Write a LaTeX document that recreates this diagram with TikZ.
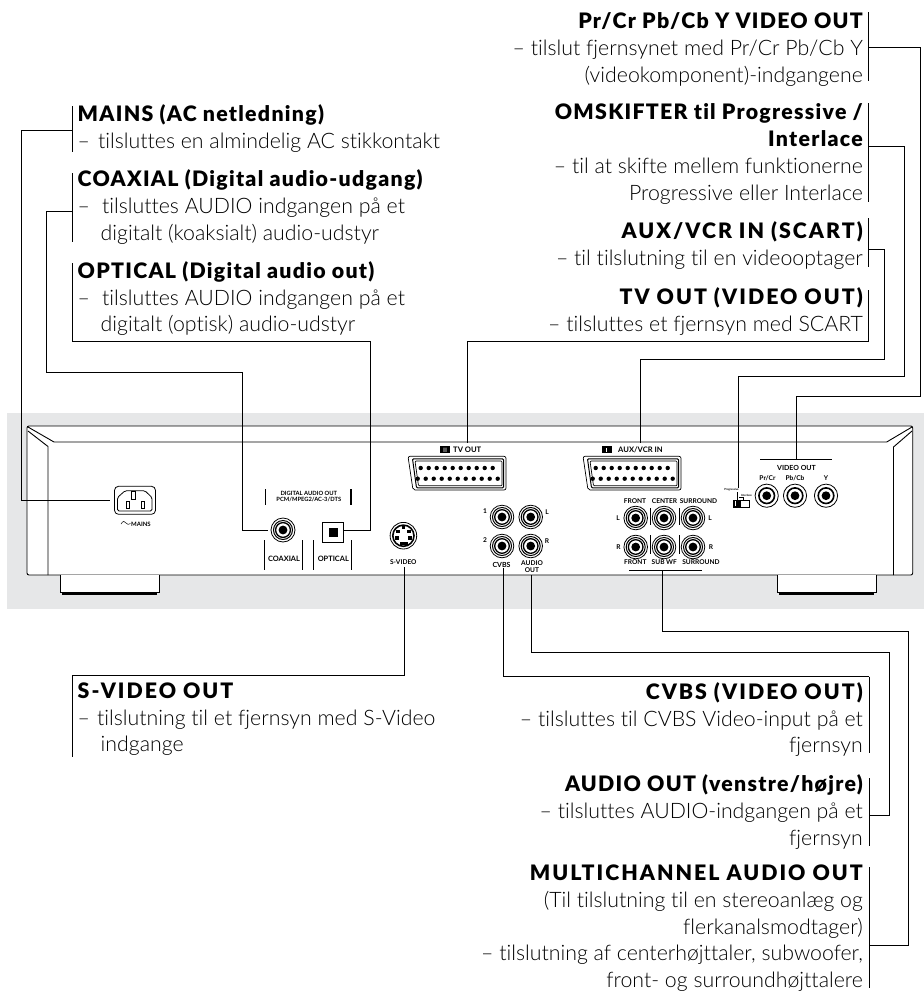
\documentclass[tikz,border=0pt]{standalone}
\usepackage{fontspec}
\setmainfont{Lato}
\newfontfamily\hdfam{Lato}[LetterSpace=6,BoldFont={Lato Black},Ligatures=NoCommon]
\newfontfamily\hcfam{Lato}[LetterSpace=9.5,BoldFont={Lato Black},Ligatures=NoCommon]
\newfontfamily\bdfam{Lato Light}[Ligatures=NoCommon]
\newcommand{\hd}[1]{{\hdfam\bfseries #1}}
\newcommand{\hc}[1]{{\hcfam\bfseries #1}}
\definecolor{panelgray}{HTML}{E6E7E8}
\begin{document}
\begin{tikzpicture}[x=1pt,y=-1pt,
  wire/.style={line width=1pt,line join=miter},
  devline/.style={line width=.9pt},
  ltext/.style={anchor=base west,align=left,inner sep=0pt,font=\bdfam\fontsize{21.3}{26.7}\selectfont},
  rtext/.style={anchor=base east,align=right,inner sep=0pt,font=\bdfam\fontsize{21.3}{26.7}\selectfont},
  tiny/.style={inner sep=0pt,align=center,font=\bfseries\fontsize{6.6}{7}\selectfont},
]
\useasboundingbox (0,0) rectangle (924,991);
\fill[white] (0,0) rectangle (924,991);
\fill[panelgray] (7,413) rectangle (924,609);

% ---------- device body
\draw[devline,fill=white,rounded corners=2pt] (27,426) rectangle (912.7,575);
\draw[devline] (28,427) -- (54,442) -- (886.7,442) -- (912,427);
\draw[devline] (28,431) -- (48,446.5) -- (48,575);
\draw[devline] (912,431) -- (893.5,447) -- (893.5,575);
% feet
\foreach \fx in {60,777}{
  \draw[line width=1pt,fill=white] (\fx,575) -- (\fx,592) -- (\fx+99,592) -- (\fx+99,575);
  \draw[line width=1.1pt] (\fx+2,594) -- (\fx+97,594);
}

% ---------- mains inlet
\node[draw,line width=.8pt,rounded corners=4pt,minimum width=41pt,minimum height=28pt,inner sep=0pt] (mains) at (135,500.3) {};
\draw[line width=.8pt,rounded corners=1.5pt] (125,490.8) -- (145,490.8) -- (152,497.5) -- (152,511) -- (117.5,511) -- (117.5,497.5) -- cycle;
\draw[line width=.8pt] (131.8,491.5) rectangle (135.5,499) (126,501) rectangle (129.3,508.3) (141.2,501) rectangle (144.8,508.3);
\draw[line width=.5pt] (121,524) .. controls (123,520.5) and (125,521) .. (126,523) .. controls (127,525) and (129,524.5) .. (130.5,523.5);
\node[tiny,font=\bfseries\fontsize{6}{7}\selectfont] (mainslabel) at (141,524) {MAINS};

% ---------- digital audio
\node[tiny,font=\bfseries\fontsize{5.8}{6.7}\selectfont] (dlabel) at (308.8,496.5) {DIGITAL AUDIO OUT\\PCM/MPEG2/AC-3/DTS};
\draw[line width=1.1pt] (265.5,489) -- (265.5,504.5) (351,489) -- (351,504.5);
\node[circle,inner sep=0pt,minimum size=24pt,draw,line width=.8pt] (coax) at (283,530) {};
\draw[line width=1pt] (coax) circle[radius=9.5];
\draw[line width=1.3pt] (coax) circle[radius=7.4];
\fill (coax) circle[radius=4.4];
\draw[line width=.8pt] (264.5,540) -- (264.5,569.5) (302.5,540) -- (302.5,569.5);
\node[tiny,font=\bfseries\fontsize{7.4}{8}\selectfont] (coaxlabel) at (284,559) {COAXIAL};
\node[draw,line width=.7pt,minimum width=20.5pt,minimum height=20pt,inner sep=0pt] (optical) at (332.8,532) {};
\draw[line width=1.5pt] (322.6,522) -- (322.6,542);
\fill (328.7,527.7) rectangle (337.5,536.7);
\draw[line width=.8pt] (313.5,540) -- (313.5,569.5) (351.2,540) -- (351.2,569.5);
\node[tiny,font=\bfseries\fontsize{7.4}{8}\selectfont] (optlabel) at (333.3,559) {OPTICAL};

% ---------- S-video
\node[circle,inner sep=0pt,minimum size=26.6pt,draw,line width=.8pt] (svideo) at (403.4,535.7) {};
\draw[line width=1.6pt] (svideo) circle[radius=10.6];
\foreach \sx/\sy in {398/531.5,409/531.5,397/538,410/538}{\fill (\sx-1.8,\sy-1.8) rectangle (\sx+1.8,\sy+1.8);}
\fill (399.5,541.8) rectangle (407.5,545);
\fill (402,526) rectangle (405,528.5);
\node[tiny] (svlabel) at (403.3,562.5) {S-VIDEO};

% ---------- SCART connectors
\foreach \sx/\nm in {408/tvport,583/auxport}{
  \draw[line width=.7pt,rounded corners=2pt] (\sx,456.3) -- (\sx+98,456.3) -- (\sx+98,490) -- (\sx+5,490) -- cycle;
  \draw[line width=1pt,rounded corners=1pt] (\sx+4.5,458.8) -- (\sx+95.5,458.8) -- (\sx+95.5,487.8) -- (\sx+8.5,487.8) -- cycle;
  \draw[line width=.7pt,rounded corners=1pt] (\sx+7,461) -- (\sx+94,461) -- (\sx+94,485.8) -- (\sx+10.5,485.8) -- cycle;
  \foreach \i in {0,...,9}{\fill (\sx+12.7+8*\i,468) circle[radius=2.2];}
  \foreach \i in {0,...,10}{\fill (\sx+9.7+8*\i,478.7) circle[radius=2.2];}
}
\coordinate (tvport) at (467,443);
\coordinate (auxport) at (640,443);
\fill (440,446) rectangle (450,453.2);
\fill (601.7,446) rectangle (612,453.2);
\fill[white] (443.5,447.5) rectangle (444.3,451.8) (445.5,447.5) rectangle (446.3,451.8);
\fill[white] (606.4,447.5) rectangle (607.2,451.8);
\node[tiny,font=\bfseries\fontsize{7.6}{8}\selectfont,anchor=west] (tvlabel) at (453,450) {TV OUT};
\node[tiny,font=\bfseries\fontsize{7.6}{8}\selectfont,anchor=west] (auxlabel) at (618,450) {AUX/VCR IN};

% ---------- RCA jacks (triple ring)
\foreach \jx/\jy in {502/517,502/546,530.7/517,530.7/546,635.7/518,664/518,693/518,635.7/547,664/547,693/547}{
  \draw[line width=.8pt] (\jx,\jy) circle[radius=11.8];
  \draw[line width=1pt] (\jx,\jy) circle[radius=9.5];
  \draw[line width=1.3pt] (\jx,\jy) circle[radius=7.3];
  \fill (\jx,\jy) circle[radius=4.4];
}
\foreach \lx/\ly/\lt in {485/511/1,485/540/2,547/512/L,547/541/R,618/518/L,710/518/L,618.5/547/R,711/547/R}{
  \node[tiny,font=\bfseries\fontsize{6.6}{7}\selectfont] at (\lx,\ly) {\lt};
}
\node[tiny,font=\bfseries\fontsize{7}{7}\selectfont] (cvbslabel) at (501.5,565) {CVBS};
\node[tiny,font=\bfseries\fontsize{6.6}{7}\selectfont] (audiolabel) at (532,566.5) {AUDIO\\OUT};
\node[tiny] (f1) at (635,501.3) {FRONT};
\node[tiny] (c1) at (664.5,501.3) {CENTER};
\node[tiny] (s1) at (698.5,501.3) {SURROUND};
\node[tiny] (f2) at (635.3,562.5) {FRONT};
\node[tiny] (s2) at (664.3,562.5) {SUB WF};
\node[tiny] (s3) at (701,562.5) {SURROUND};
\draw[line width=.8pt] (650,508) -- (650,525) (679,508) -- (679,525) (650,535) -- (650,554) (679,535) -- (679,554);
\draw[line width=.9pt] (629,570) -- (702,570);

% ---------- video out
\draw[line width=.9pt] (760,459) -- (832,459);
\coordinate (vidout) at (796.7,459);
\node[tiny,font=\bfseries\fontsize{7}{7}\selectfont] (vlabel) at (796.5,468.3) {VIDEO OUT};
\node[tiny] (pr) at (767.5,478.5) {Pr/Cr};
\node[tiny] (pb) at (795,478.5) {Pb/Cb};
\node[tiny] (ylab) at (826,478.5) {Y};
\foreach \jx in {766.7,795,826}{
  \draw[line width=.8pt] (\jx,495.7) circle[radius=11.6];
  \draw[line width=1.6pt] (\jx,495.7) circle[radius=7.8];
  \fill (\jx,495.7) circle[radius=4.4];
}

% ---------- switch
\draw[line width=.8pt] (733.3,500) rectangle (749,507);
\fill (733.3,500) rectangle (741,507);
\fill[white] (735,501) rectangle (736,506);
\coordinate (swport) at (738,487.5);
\node[tiny,font=\bfseries\fontsize{2.8}{3}\selectfont] (prog) at (731.5,489.7) {Progressive};
\node[tiny,font=\bfseries\fontsize{2.8}{3}\selectfont] (inter) at (746.5,495) {Interlace};
\draw[line width=.4pt] (737,492) -- (737,500) (739,497) -- (743,497) -- (743,500);

% ---------- left labels (the y given is the baseline of the last line)
\node[ltext] (tmains) at (77.5,148) {\hd{MAINS (AC netledning)}\\–\hspace*{8pt}tilsluttes en almindelig AC stikkontakt};
\node[ltext] (tcoax) at (77.5,240) {\hd{COAXIAL (Digital audio-udgang)}\\–\hspace*{12pt}tilsluttes AUDIO indgangen på et\\\hspace*{23pt}digitalt (koaksialt) audio-udstyr};
\node[ltext] (topt) at (77.5,331.7) {\hd{OPTICAL (Digital audio out)}\\–\hspace*{12pt}tilsluttes AUDIO indgangen på et\\\hspace*{23pt}digitalt (optisk) audio-udstyr};
\node[ltext] (tsv) at (77.5,751.7) {\hc{S-VIDEO OUT}\\–\hspace*{7pt}tilslutning til et fjernsyn med S-Video\\\hspace*{23pt}indgange};

% ---------- right labels
\node[rtext] (tpr) at (863,82) {\hd{Pr/Cr Pb/Cb Y VIDEO OUT}\\– tilslut fjernsynet med Pr/Cr Pb/Cb Y\\(videokomponent)-indgangene};
\node[rtext] (tom) at (863,200) {\hd{OMSKIFTER til Progressive /}\\\hd{Interlace}\\– til at skifte mellem funktionerne\\Progressive eller Interlace};
\node[rtext] (taux) at (863,265) {\hc{AUX/VCR IN (SCART)}\\– til tilslutning til en videooptager};
\node[rtext] (ttv) at (863,331) {\hc{TV OUT (VIDEO OUT)}\\– tilsluttes et fjernsyn med SCART};
\node[rtext] (tcv) at (863,752.7) {\hc{CVBS (VIDEO OUT)}\\– tilsluttes til CVBS Video-input på et\\fjernsyn};
\node[rtext] (tau) at (863,845) {\hd{AUDIO OUT (venstre/højre)}\\– tilsluttes AUDIO-indgangen på et\\fjernsyn};
\node[rtext] (tmu) at (863,987.5) {\hc{MULTICHANNEL AUDIO OUT}\\(Til tilslutning til en stereoanlæg og\\flerkanalsmodtager)\\– tilslutning af centerhøjttaler, subwoofer,\\front- og surroundhøjttalere};

% ---------- label bars
\coordinate (bmains) at (72,130);
\coordinate (bcoax) at (72,211);
\coordinate (bopt) at (72,341.7);
\coordinate (bsv) at (72.5,675);
\coordinate (bpr) at (868.5,47);
\coordinate (bom) at (868.5,146);
\coordinate (baux) at (868.5,249.5);
\coordinate (btv) at (868.5,341);
\coordinate (bcv) at (869,676.7);
\coordinate (bau) at (869,815);
\coordinate (bmu) at (869,945);
\draw[wire] (72,106) -- (72,152);
\draw[wire] (72,173) -- (72,242);
\draw[wire] (72,263) -- (bopt);
\draw[wire] (bsv) -- (72.5,757);
\draw[wire] (868.5,12) -- (868.5,81);
\draw[wire] (868.5,103) -- (868.5,202);
\draw[wire] (868.5,218) -- (868.5,267);
\draw[wire] (868.5,290) -- (btv);
\draw[wire] (bcv) -- (869,752.7);
\draw[wire] (869,778) -- (869,846);
\draw[wire] (869,867) -- (869,988);

% ---------- connectors
\coordinate (pmains) at (110,500.5);
\coordinate (pcoax) at (268,530);
\coordinate (popt) at (343,530);
\coordinate (psv) at (404,567);
\coordinate (pcv) at (503.5,568);
\coordinate (pau) at (531.7,574.5);
\coordinate (pmu) at (662.7,570);
\draw[wire] (bmains) -- (21,130) -- (21,500.5) -- (pmains);
\draw[wire] (bcoax) -- (46,211) -- (46,372) -- (242,372) -- (242,530) -- (pcoax);
\draw[wire] (bopt) -- (370,341.7) -- (370,530) -- (popt);
\draw[wire] (bsv) -- (404,675) -- (psv);
\draw[wire] (bpr) -- (920,47) -- (920,396.7) -- (796.7,396.7) -- (vidout);
\draw[wire] (bom) -- (904,146) -- (904,376) -- (738,376) -- (swport);
\draw[wire] (baux) -- (884,249.5) -- (884,359) -- (640,359) -- (auxport);
\draw[wire] (btv) -- (467,341) -- (tvport);
\draw[wire] (bcv) -- (503.5,676.7) -- (pcv);
\draw[wire] (bau) -- (889,815) -- (889,652) -- (531.7,652) -- (pau);
\draw[wire] (bmu) -- (908,945) -- (908,631.7) -- (662.7,631.7) -- (pmu);
\end{tikzpicture}
\end{document}
